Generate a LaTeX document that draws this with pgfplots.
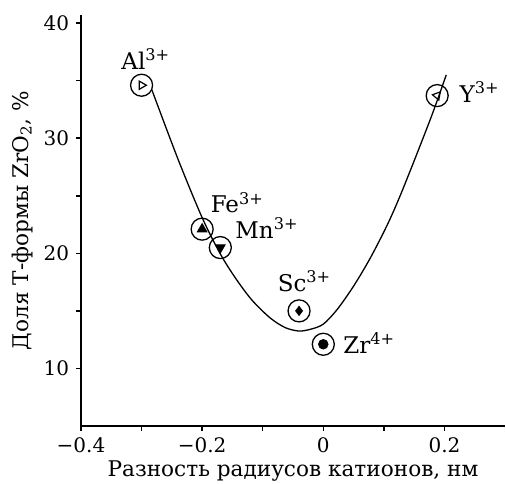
\documentclass[border=0pt]{standalone}
\usepackage{fontspec}
\setmainfont{DejaVu Serif}
\usepackage{pgfplots}
\pgfplotsset{compat=1.18}
\begin{document}
\begin{tikzpicture}
\begin{axis}[
 scale only axis, width=212pt, height=205.5pt,
 xmin=-0.4, xmax=0.3, ymin=5, ymax=40.7,
 axis x line*=bottom, axis y line*=left,
 axis line style={line width=0.75pt},
 tick align=outside, major tick length=2.4pt, minor tick length=2.4pt,
 tick style={line width=0.75pt, black},
 xtick={-0.4,-0.2,0,0.2}, xticklabels={−0.4,−0.2,0,0.2},
 minor xtick={-0.3,-0.1,0.1},
 ytick={10,20,30,40}, yticklabels={10,20,30,40},
 minor ytick={15,25,35},
 tick label style={font=\fontsize{10}{11}\selectfont},
 xlabel={Разность радиусов катионов, нм},
 ylabel={Доля Т-формы ZrO\textsubscript{2}, \%},
 label style={font=\fontsize{10.8}{12}\selectfont},
 xlabel style={at={(axis description cs:0.5,-0.109)}, anchor=center},
 ylabel style={at={(axis description cs:-0.139,0.5)}, anchor=center},
 clip=false,
]
% fitted curve
\addplot[black, line width=0.65pt, smooth, tension=0.5] coordinates {
 (-0.283,34.2) (-0.240,28.2) (-0.200,23.1) (-0.170,19.95) (-0.145,17.85)
 (-0.118,15.95) (-0.088,14.4) (-0.063,13.55) (-0.040,13.25) (-0.020,13.42)
 (0.000,13.85) (0.0226,15.1) (0.050,17.15) (0.0777,19.6) (0.105,22.4)
 (0.1245,24.7) (0.149,27.9) (0.180,32.1) (0.203,35.5)
};
% circles
\addplot[only marks, mark=o, mark size=5.5pt, mark options={line width=0.65pt, fill=white}, black] coordinates {
 (-0.30,34.6) (-0.20,22.1) (-0.17,20.5) (-0.04,15.0) (0.0,12.1) (0.188,33.7)
};
% inner marks
\addplot[only marks, mark=triangle, mark size=2.4pt, mark options={rotate=-90, line width=0.6pt}, black] coordinates {(-0.30,34.6)};
\addplot[only marks, mark=triangle*, mark size=2.8pt, black] coordinates {(-0.20,22.1)};
\addplot[only marks, mark=triangle*, mark size=2.8pt, mark options={rotate=180}, black] coordinates {(-0.17,20.5)};
\addplot[only marks, mark=diamond*, mark size=2.3pt, black] coordinates {(-0.04,15.0)};
\addplot[only marks, mark=*, mark size=2.4pt, black] coordinates {(0.0,12.1)};
\addplot[only marks, mark=triangle, mark size=2.4pt, mark options={rotate=80, line width=0.6pt}, black] coordinates {(0.188,33.7)};
% labels
\begin{scope}[every node/.style={font=\fontsize{11.5}{13}\selectfont, inner sep=0pt}]
\node at (axis cs:-0.293,36.9) {Al\textsuperscript{3+}};
\node at (axis cs:-0.142,24.4) {Fe\textsuperscript{3+}};
\node at (axis cs:-0.093,22.2) {Mn\textsuperscript{3+}};
\node at (axis cs:-0.031,17.6) {Sc\textsuperscript{3+}};
\node at (axis cs:0.076,12.2) {Zr\textsuperscript{4+}};
\node at (axis cs:0.258,34.0) {Y\textsuperscript{3+}};
\end{scope}
\end{axis}
\pgfresetboundingbox
\useasboundingbox ([shift={(-40.5pt,-28.5pt)}]current axis.south west) rectangle ([shift={(0.5pt,7.5pt)}]current axis.north east);
\end{tikzpicture}
\end{document}
